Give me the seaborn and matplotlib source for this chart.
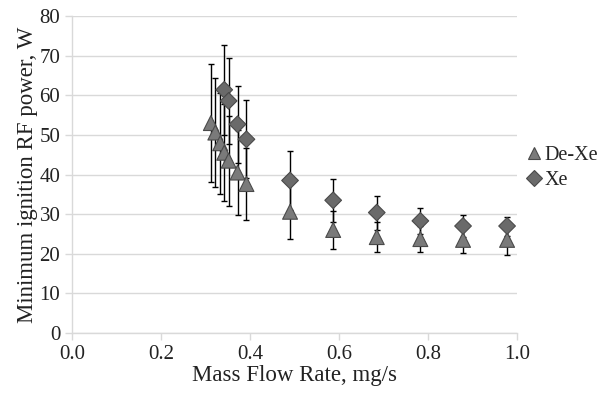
import matplotlib
matplotlib.use("Agg")
import matplotlib.pyplot as plt
import seaborn as sns
import pandas as pd

# De-Xe (triangles)
dexe_flow = [0.312, 0.322, 0.333, 0.342, 0.352, 0.372, 0.392, 0.490, 0.587, 0.685, 0.783, 0.879, 0.978]
dexe_power = [53.0, 50.6, 47.9, 45.5, 43.5, 40.5, 37.6, 30.6, 26.0, 24.2, 23.7, 23.5, 23.5]
dexe_err = [15.0, 13.8, 12.8, 12.3, 11.4, 10.7, 9.2, 6.9, 4.8, 3.7, 3.2, 3.4, 3.9]

# Xe (diamonds)
xe_flow = [0.342, 0.352, 0.372, 0.392, 0.490, 0.587, 0.685, 0.783, 0.879, 0.978]
xe_power = [61.4, 58.6, 52.7, 48.9, 38.5, 33.5, 30.4, 28.3, 27.0, 27.0]
xe_err = [11.4, 10.9, 9.7, 9.8, 7.5, 5.4, 4.3, 3.2, 2.8, 2.4]

df = pd.concat([
    pd.DataFrame({'flow': dexe_flow, 'power': dexe_power, 'err': dexe_err, 'gas': 'De-Xe'}),
    pd.DataFrame({'flow': xe_flow, 'power': xe_power, 'err': xe_err, 'gas': 'Xe'}),
], ignore_index=True)

sns.set_style('white')
plt.rcParams['font.family'] = ['Liberation Serif', 'DejaVu Serif']

fig = plt.figure(figsize=(6.01, 3.94), dpi=100)
ax = fig.add_axes([0.12, 0.155, 0.74, 0.804])

for gas, sub in df.groupby('gas'):
    ax.errorbar(sub['flow'], sub['power'], yerr=sub['err'], fmt='none',
                ecolor='black', elinewidth=1.0, capsize=2, capthick=1.0, zorder=2)

sns.scatterplot(data=df, x='flow', y='power', hue='gas', style='gas',
                markers={'De-Xe': '^', 'Xe': 'D'},
                palette={'De-Xe': '#7a7a7a', 'Xe': '#6a6a6a'},
                size='gas', sizes={'De-Xe': 115, 'Xe': 72},
                edgecolor='#4a4a4a', linewidth=0.8, ax=ax, zorder=3)

ax.set_xlim(0, 1.0)
ax.set_ylim(0, 80)
ax.set_xticks([0, 0.2, 0.4, 0.6, 0.8, 1.0])
ax.set_xticklabels(['0.0', '0.2', '0.4', '0.6', '0.8', '1.0'])
ax.set_yticks(range(0, 81, 10))
ax.yaxis.grid(True, color='#d9d9d9', linewidth=1)
ax.xaxis.grid(False)
for s in ['top', 'right']:
    ax.spines[s].set_visible(False)
for s in ['left', 'bottom']:
    ax.spines[s].set_color('#d9d9d9')
    ax.spines[s].set_linewidth(1)
ax.tick_params(axis='both', which='major', direction='out', length=5, width=1,
               color='#d9d9d9', labelsize=15, labelcolor='#222222', bottom=True, left=True)
ax.set_xlabel('Mass Flow Rate, mg/s', fontsize=16.5, color='#222222', labelpad=1)
ax.set_ylabel('Minimum ignition RF power, W', fontsize=16.5, color='#222222', labelpad=1)

handles, labels = ax.get_legend_handles_labels()
for h in handles:
    h.set_markersize(8.5)
ax.legend(handles, labels, loc='center left', bbox_to_anchor=(1.01, 0.52), frameon=False,
          fontsize=14.5, handlelength=0.7, handletextpad=0.15, labelspacing=0.3,
          borderaxespad=0.1, borderpad=0.2)

fig.savefig('out.png', dpi=100)
